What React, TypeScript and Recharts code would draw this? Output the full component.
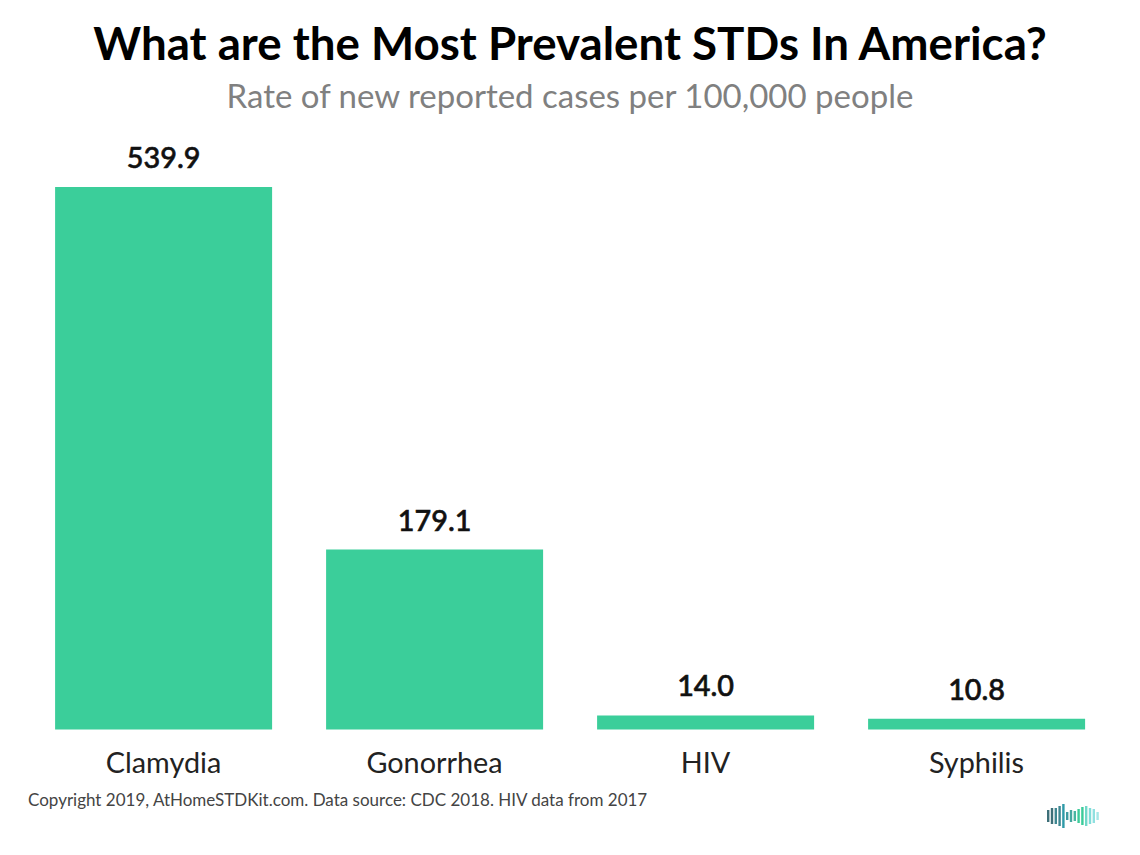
import { BarChart, Bar, XAxis, YAxis, LabelList } from "recharts";

const categories = ["Clamydia", "Gonorrhea", "HIV", "Syphilis"];
const rates = [539.9, 179.1, 14.0, 10.8];

const chartData = categories.map((name, i) => ({ name, rate: rates[i] }));

// little waveform logo bottom right
const logoHeights = [12, 16, 16, 20, 24, 8, 12, 10, 14, 18, 20, 16, 14, 8];
const logoColors = ["#3d6f78", "#3d6f78", "#3f8791", "#3f8791", "#2f9aa8", "#3f9aa0", "#45a8a0", "#48b5a0", "#3ccb9a", "#3ccb9a", "#6fd8c8", "#80dcd8", "#90e0e0", "#a5e6e6"];

const FONT = "Lato, sans-serif";

export default function App() {
  return (
    <div style={{ position: "absolute", left: 0, top: 0, width: 1140, height: 855, background: "#fff", fontFamily: FONT, overflow: "hidden" }}>
      <div style={{ position: "absolute", top: 15, left: 0, width: 1140, textAlign: "center", fontSize: 45.7, fontWeight: 700, color: "#000", lineHeight: "56px" }}>
        What are the Most Prevalent STDs In America?
      </div>
      <div style={{ position: "absolute", top: 74, left: 0, width: 1140, textAlign: "center", fontSize: 33, color: "#808080", lineHeight: "42px" }}>
        Rate of new reported cases per 100,000 people
      </div>

      <BarChart
        width={1140}
        height={855}
        data={chartData}
        margin={{ top: 187, right: 28, bottom: 0, left: 28 }}
        barCategoryGap="10%"
      >
        <XAxis
          dataKey="name"
          height={125.5}
          axisLine={false}
          tickLine={false}
          interval={0}
          tickMargin={17}
          tick={{ fontSize: 28.8, fill: "#222", fontFamily: FONT }}
        />
        <YAxis hide domain={[0, 539.9]} />
        <Bar dataKey="rate" fill="#3bce9a" isAnimationActive={false}>
          <LabelList
            dataKey="rate"
            position="top"
            offset={19}
            formatter={(v: number) => v.toFixed(1)}
            style={{ fontSize: 28.8, fontWeight: 500, fill: "#111", stroke: "#111", strokeWidth: 0.6, fontFamily: FONT }}
          />
        </Bar>
      </BarChart>

      <div style={{ position: "absolute", top: 789, left: 28, fontSize: 17, color: "#444", lineHeight: "22px", whiteSpace: "nowrap" }}>
        Copyright 2019, AtHomeSTDKit.com. Data source: CDC 2018. HIV data from 2017
      </div>

      <svg style={{ position: "absolute", left: 1046, top: 804 }} width={54} height={24}>
        {logoHeights.map((h, i) => (
          <rect key={i} x={1 + i * 3.8} y={12 - h / 2} width={2.4} height={h} fill={logoColors[i]} />
        ))}
      </svg>
    </div>
  );
}
